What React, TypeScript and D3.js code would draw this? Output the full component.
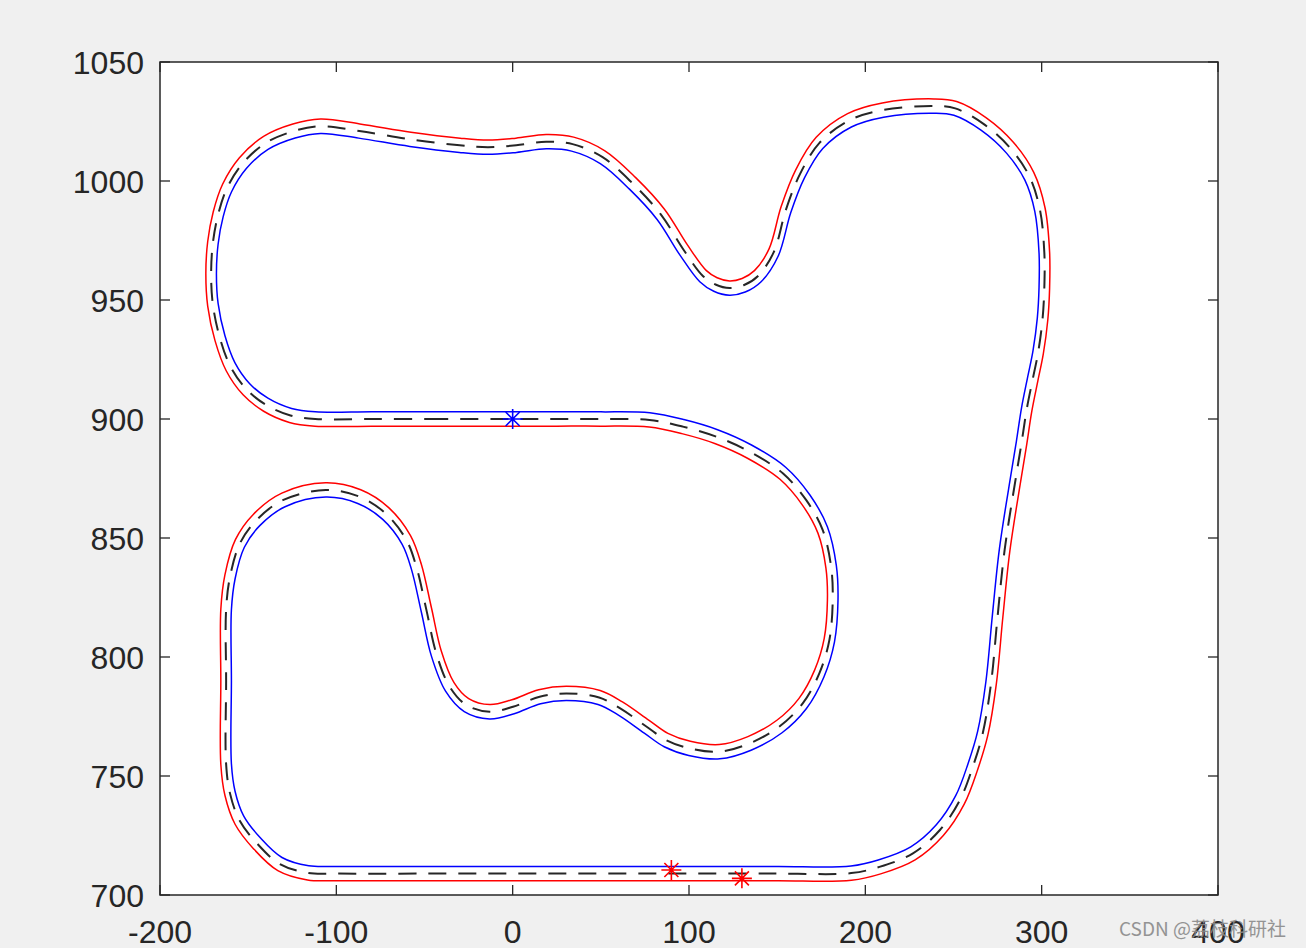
import React from 'react';
import * as d3 from 'd3';

// Centre line of the track (data units), starting at the blue star and running west
const trackX = [
  0, -40, -80, -112, -126, -140, -151, -160, -166, -170, -171, -170, -167, -162, -153, -140, -124, -109,
  -87, -58, -30, -14, 2, 19, 34, 51, 68, 84, 97, 108, 115, 123, 131, 139, 148, 155, 163, 174, 191, 210,
  239, 251, 267, 282, 293, 299, 301.5, 301.5, 300.5, 298, 295, 291.5, 288.6, 285.5, 279, 275, 271.3,
  266.6, 261, 253.7, 242.3, 227, 208, 192, 150, 100, 50, 0, -50, -100, -116, -132, -145, -155, -160.3,
  -162.5, -162.5, -162.5, -160.3, -154.7, -145.2, -130, -106, -87, -72, -60.3, -54.6, -48.9, -43.3,
  -35.7, -26.2, -13, 0.2, 15.3, 30.4, 49, 61, 76, 87, 100.3, 117.3, 134.3, 151.3, 164.5, 173.9, 179.6,
  181.5, 180.6, 175.8, 166.4, 153.2, 134.3, 115.4, 96.5, 77.6, 50, 25,
];
const trackY = [
  900, 900, 900, 900, 901.5, 906, 912.5, 922, 934, 948, 961, 974, 986, 997, 1007.5, 1016, 1021, 1023,
  1021, 1017.5, 1015, 1014.2, 1015, 1016.5, 1015.5, 1010, 999, 986, 971, 960, 956.5, 955, 956.2, 960,
  970, 988, 1003, 1016, 1025.5, 1029.8, 1031.5, 1030.5, 1024, 1014, 1002, 988, 970, 955, 942, 928, 917,
  904, 890, 876, 845, 817, 789, 768, 754, 740, 727.3, 717.5, 711.8, 709.2, 709, 709, 709, 709, 709, 709,
  709.3, 713, 721.7, 731.5, 742.7, 755, 790, 820, 833.7, 847.7, 857.6, 866, 870.2, 867.4, 860.3, 849.2,
  837.9, 819.7, 801.5, 787.5, 779.8, 777, 779.1, 783.3, 784.7, 783, 778.4, 770.7, 765.1, 761.6, 760.2,
  763.7, 770.8, 780.5, 793.1, 807.1, 823.9, 837.9, 853.4, 866, 877.2, 886.3, 892.6, 896.8, 899.6, 900, 900,
];
const halfWidth = 3;

const blueStarX = [0];
const blueStarY = [900];
const redStarX = [90, 130];
const redStarY = [710.5, 707];

const xTicks = [-200, -100, 0, 100, 200, 300, 400];
const yTicks = [700, 750, 800, 850, 900, 950, 1000, 1050];

const W = 1306;
const H = 948;
const L = 160, R = 1218, T = 62, B = 895;
const AX = '#262626';
const FONT = '"Liberation Sans", Arial, Helvetica, sans-serif';

function starPath(cx: number, cy: number) {
  const r = 10, d = 7;
  return `M${cx - r},${cy}H${cx + r}M${cx},${cy - r}V${cy + r}` +
    `M${cx - d},${cy - d}L${cx + d},${cy + d}M${cx - d},${cy + d}L${cx + d},${cy - d}`;
}

export default function App() {
  const x = d3.scaleLinear().domain([-200, 400]).range([L, R]);
  const y = d3.scaleLinear().domain([700, 1050]).range([B, T]);

  const n = trackX.length;
  const center: [number, number][] = trackX.map((v, i) => [v, trackY[i]]);
  const normals = center.map((_, i) => {
    const a = center[(i - 1 + n) % n];
    const b = center[(i + 1) % n];
    const tx = b[0] - a[0];
    const ty = b[1] - a[1];
    const l = Math.hypot(tx, ty) || 1;
    return [ty / l, -tx / l];
  });
  const blue: [number, number][] = center.map((p, i) => [p[0] + halfWidth * normals[i][0], p[1] + halfWidth * normals[i][1]]);
  const red: [number, number][] = center.map((p, i) => [p[0] - halfWidth * normals[i][0], p[1] - halfWidth * normals[i][1]]);

  const line = d3.line<[number, number]>()
    .x((d) => x(d[0]))
    .y((d) => y(d[1]))
    .curve(d3.curveCatmullRomClosed.alpha(0.5));

  const tl = 10;

  return (
    <svg width={W} height={H} style={{ position: 'absolute', left: 0, top: 0, display: 'block' }}>
      <rect x={0} y={0} width={W} height={H} fill="#f0f0f0" />
      <rect x={L} y={T} width={R - L} height={B - T} fill="#ffffff" />

      <path d={line(center) || ''} fill="none" stroke="#262626" strokeWidth={2} strokeDasharray="18 12" />
      <path d={line(blue) || ''} fill="none" stroke="#0000ff" strokeWidth={1.5} />
      <path d={line(red) || ''} fill="none" stroke="#ff0000" strokeWidth={1.5} />

      {redStarX.map((v, i) => (
        <path key={'r' + i} d={starPath(x(v), y(redStarY[i]))} fill="none" stroke="#ff0000" strokeWidth={1.6} />
      ))}
      {blueStarX.map((v, i) => (
        <path key={'b' + i} d={starPath(x(v), y(blueStarY[i]))} fill="none" stroke="#0000ff" strokeWidth={1.6} />
      ))}

      {/* ticks */}
      {xTicks.map((t) => (
        <g key={'xt' + t}>
          <line x1={x(t)} x2={x(t)} y1={B} y2={B - tl} stroke={AX} strokeWidth={1.3} />
          <line x1={x(t)} x2={x(t)} y1={T} y2={T + tl} stroke={AX} strokeWidth={1.3} />
          <text x={x(t)} y={943} textAnchor="middle" fontFamily={FONT} fontSize={32} fill={AX}>{t}</text>
        </g>
      ))}
      {yTicks.map((t) => (
        <g key={'yt' + t}>
          <line x1={L} x2={L + tl} y1={y(t)} y2={y(t)} stroke={AX} strokeWidth={1.3} />
          <line x1={R} x2={R - tl} y1={y(t)} y2={y(t)} stroke={AX} strokeWidth={1.3} />
          <text x={144} y={y(t) + 12} textAnchor="end" fontFamily={FONT} fontSize={32} fill={AX}>{t}</text>
        </g>
      ))}
      <rect x={L} y={T} width={R - L} height={B - T} fill="none" stroke={AX} strokeWidth={1.5} />

      <text x={1119} y={936} fontFamily='"Noto Sans CJK SC", "Noto Sans", sans-serif' fontSize={19} fill="#8a8a8a" opacity={0.9}>
        CSDN @荔枝科研社
      </text>
    </svg>
  );
}
